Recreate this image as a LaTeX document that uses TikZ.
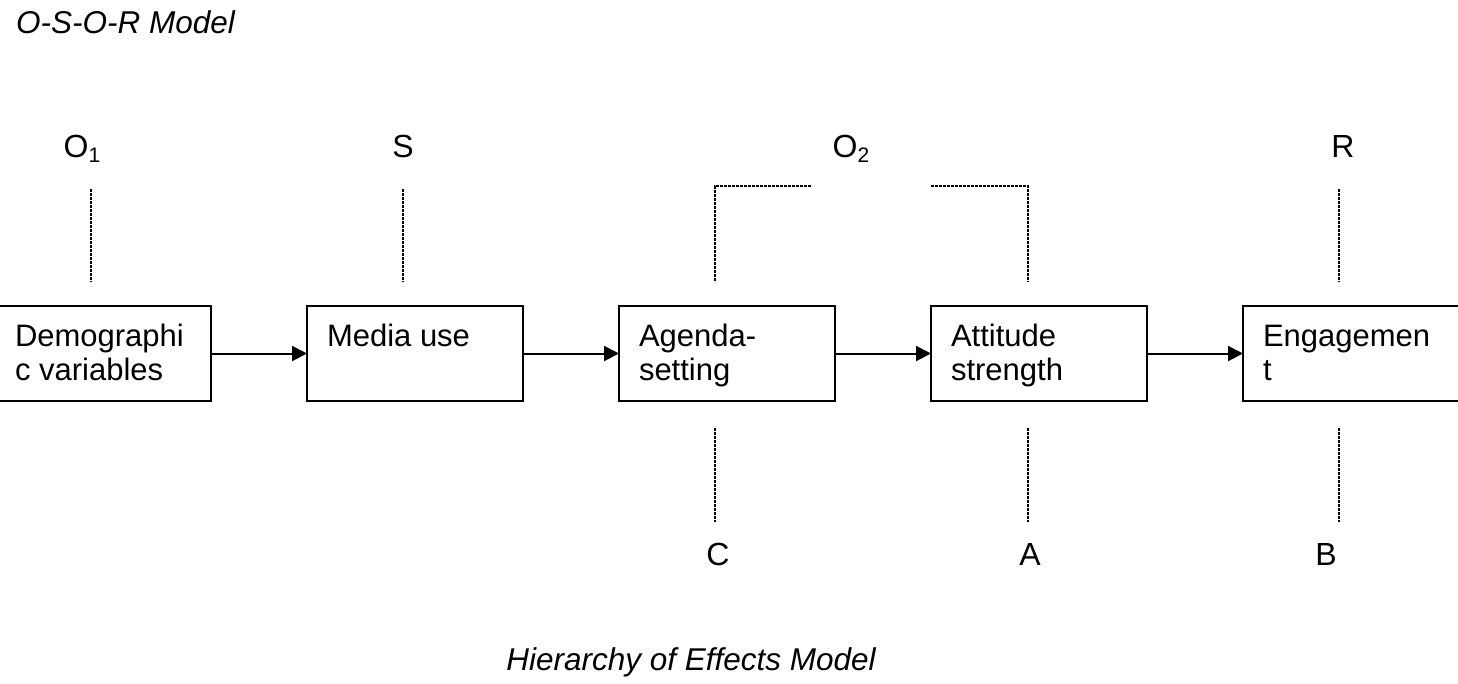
\documentclass[tikz,border=0pt]{standalone}
\usepackage{fontspec}
\setmainfont{Liberation Sans}
\usetikzlibrary{arrows.meta,calc}
\newcommand\stagetext[1]{\parbox[c][95pt][t]{216pt}{\fontsize{31}{34}\selectfont\raggedright\leftskip=20pt\rule{0pt}{40pt}#1}}
\newcommand\subidx[1]{\raisebox{-5pt}{\fontsize{21}{21}\selectfont #1}}
\begin{document}
\begin{tikzpicture}[x=1pt,y=-1pt,
  stage/.style={draw, line width=2pt, rectangle, inner sep=0pt, outer sep=0pt,
                minimum width=216pt, minimum height=95pt},
  flow/.style={line width=2pt, -{Triangle[length=15pt,width=15pt]}},
  link/.style={line width=2.6pt, dash pattern=on 2.7pt off 1.3pt},
  tag/.style={inner sep=0pt, anchor=base, font=\fontsize{32}{32}\selectfont},
  heading/.style={inner sep=0pt, font=\fontsize{31.5}{34}\selectfont\itshape}]
\useasboundingbox (0,0) rectangle (1458,683);

% titles
\node[heading, anchor=base west] (osor) at (16,33) {O-S-O-R Model};
\node[heading, anchor=base] (hoe) at (691,670) {Hierarchy of Effects Model};

% the five stages
\node[stage] (b1) at (103,353.5)  {\stagetext{Demographi\\c variables}};
\node[stage] (b2) at (415,353.5)  {\stagetext{Media use}};
\node[stage] (b3) at (727,353.5)  {\stagetext{Agenda-\\setting}};
\node[stage] (b4) at (1039,353.5) {\stagetext{Attitude\\strength}};
\node[stage] (b5) at (1351,353.5) {\stagetext{Engagemen\\t}};

\draw[flow] (b1) -- (b2);
\draw[flow] (b2) -- (b3);
\draw[flow] (b3) -- (b4);
\draw[flow] (b4) -- (b5);

% O-S-O-R labels
\node[tag] (o1) at (82,157)   {O\subidx{1}};
\node[tag] (s)  at (403,157)  {S};
\node[tag] (o2) at (851,157)  {O\subidx{2}};
\node[tag] (r)  at (1343,157) {R};

% hierarchy-of-effects labels
\node[tag] (c) at (718,565)  {C};
\node[tag] (a) at (1030,565) {A};
\node[tag] (b) at (1326,565) {B};

% dotted links above the stages
\draw[link] ($(b1.north)+(-12,-117)$) -- ($(b1.north)+(-12,-24)$);
\draw[link] ($(b2.north)+(-12,-117)$) -- ($(b2.north)+(-12,-24)$);
\draw[link] ($(b3.north)+(84,-120)$) -- ($(b3.north)+(-12,-120)$) -- ($(b3.north)+(-12,-24)$);
\draw[link] ($(b4.north)+(-108,-120)$) -- ($(b4.north)+(-11,-120)$) -- ($(b4.north)+(-11,-24)$);
\draw[link] ($(b5.north)+(-12,-117)$) -- ($(b5.north)+(-12,-24)$);

% dotted links below the stages
\draw[link] ($(b3.south)+(-12,27)$) -- ($(b3.south)+(-12,121)$);
\draw[link] ($(b4.south)+(-11,27)$) -- ($(b4.south)+(-11,121)$);
\draw[link] ($(b5.south)+(-12,27)$) -- ($(b5.south)+(-12,121)$);
\end{tikzpicture}
\end{document}
